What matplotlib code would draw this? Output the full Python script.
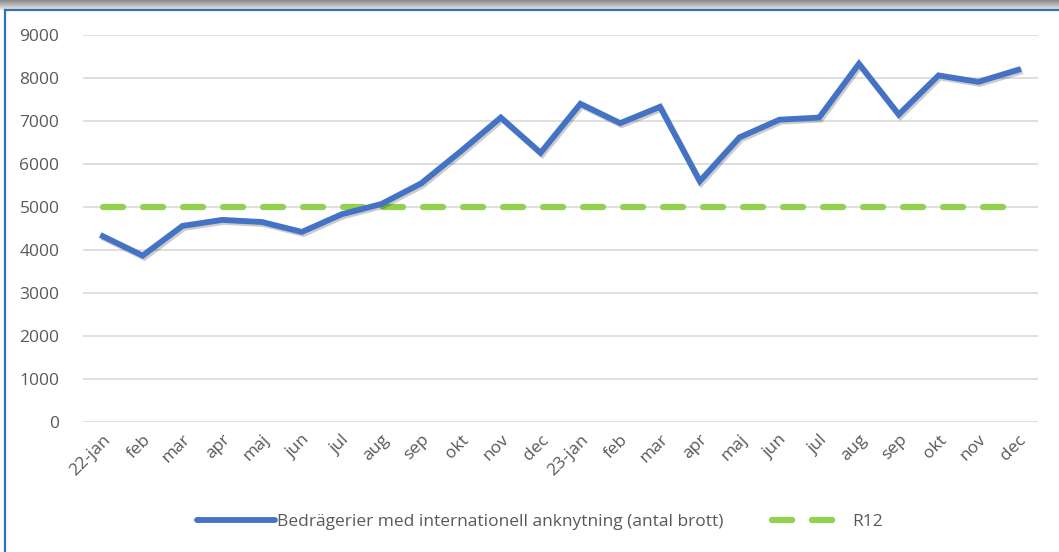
import numpy as np
import matplotlib.pyplot as plt
import matplotlib.patheffects as pe
from matplotlib.lines import Line2D

# Data
months = ['22-jan', 'feb', 'mar', 'apr', 'maj', 'jun', 'jul', 'aug', 'sep', 'okt', 'nov', 'dec',
          '23-jan', 'feb', 'mar', 'apr', 'maj', 'jun', 'jul', 'aug', 'sep', 'okt', 'nov', 'dec']
brott = [4320, 3870, 4560, 4700, 4650, 4420, 4830, 5070, 5550, 6300, 7080, 6260,
         7400, 6950, 7330, 5600, 6620, 7030, 7080, 8330, 7150, 8060, 7910, 8190]
r12 = [5000] * len(months)

BLUE = '#4472C4'
GREEN = '#92D050'
TEXT = '#595959'

plt.rcParams['font.family'] = ['Open Sans', 'DejaVu Sans']

fig = plt.figure(figsize=(10.59, 5.52), dpi=100)

# top shadow strip and blue frame like the source screenshot
shade = np.linspace(0.55, 0.9, 10).reshape(-1, 1)
fig.figimage(np.repeat(shade, 1059, axis=1), xo=0, yo=552 - 10, cmap='gray', vmin=0, vmax=1)
fig.add_artist(Line2D([0.0045, 1.0], [1 - 9.5 / 552, 1 - 9.5 / 552], color='#2E75B6', lw=1.6,
                      transform=fig.transFigure))
fig.add_artist(Line2D([0.0045, 0.0045], [0, 1 - 9.5 / 552], color='#2E75B6', lw=1.6,
                      transform=fig.transFigure))

ax = fig.add_axes([83 / 1059, 1 - 422 / 552, (1038 - 83) / 1059, (422 - 35) / 552])
x = np.arange(len(months))

ax.plot(x, r12, color=GREEN, lw=4.5, dashes=(3.2, 3.2), dash_capstyle='round', zorder=2)
ax.plot(x, brott, color=BLUE, lw=4.2, solid_joinstyle='miter', zorder=3,
        path_effects=[pe.SimpleLineShadow(offset=(1.2, -1.5), alpha=0.2, shadow_color='k'),
                      pe.Normal()])

ax.set_xlim(-0.5, len(months) - 0.5)
ax.set_ylim(0, 9000)
ax.set_yticks(range(0, 9001, 1000))
ax.grid(axis='y', color='#D9D9D9', lw=1.2)
ax.set_axisbelow(True)
for s in ax.spines.values():
    s.set_visible(False)
ax.tick_params(length=0, colors=TEXT, labelsize=12.5)
ax.tick_params(axis='y', pad=17)
ax.set_xticks(x)
ax.set_xticklabels(months, rotation=45, ha='right', rotation_mode='anchor')
ax.tick_params(axis='x', pad=7)

handles = [Line2D([], [], color=BLUE, lw=4.2, solid_capstyle='round'),
           Line2D([], [], color=GREEN, lw=4.5, dashes=(3.2, 3.2), dash_capstyle='round')]
leg = fig.legend(handles, ['Bedrägerier med internationell anknytning (antal brott)', 'R12'],
                 loc='center', bbox_to_anchor=(0.51, 1 - 522 / 552), ncol=2, frameon=False,
                 fontsize=12.5, handlelength=4.5, handletextpad=0.1, columnspacing=2.8)
for t in leg.get_texts():
    t.set_color(TEXT)

fig.savefig('out.png', dpi=100)
